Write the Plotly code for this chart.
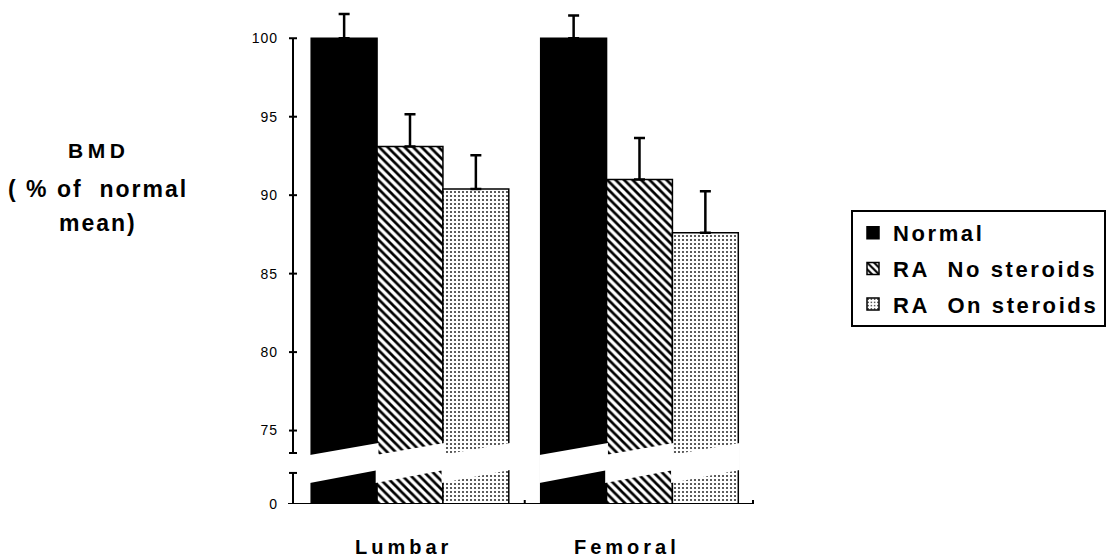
import plotly.graph_objects as go

# ---------------- data ----------------
categories = ["Lumbar", "Femoral"]
series_names = ["Normal", "RA\u00a0 No steroids", "RA\u00a0 On steroids"]
normal_vals = [100.0, 100.0]
normal_err = [1.55, 1.45]
no_ster_vals = [93.1, 91.0]
no_ster_err = [2.05, 2.65]
on_ster_vals = [90.4, 87.6]
on_ster_err = [2.15, 2.65]
tick_values = [75, 80, 85, 90, 95, 100]
tick_labels = ["75", "80", "85", "90", "95", "100"]

# ---------------- axis-break design (display units) ----------------
ZERO_POS = 70.32            # where "0" sits on the broken axis
BAND_UPPER = (73.44, 74.21)  # upper edge of white break band (bar left, bar right)
BAND_LOWER = (71.66, 72.49)  # lower edge of white break band
AXIS_BREAK = (72.3, 73.57)   # y-axis gap (bottom end, top end)
Y_TOP = 101.8

BARGAP = 0.139
X_RANGE = [-0.5098, 1.4946]

FONT = "Liberation Sans, Arial, Helvetica, sans-serif"


def spaced(t, px):
    return f'<span style="letter-spacing:{px}px">{t}</span>'


x_idx = list(range(len(categories)))
series = [
    (normal_vals, normal_err, dict(color="black", pattern=dict(shape=""))),
    (no_ster_vals, no_ster_err, dict(color="white",
                                     pattern=dict(shape="\\", fgcolor="black", bgcolor="white",
                                                  size=6, solidity=0.45, fillmode="replace"))),
    (on_ster_vals, on_ster_err, dict(color="white",
                                     pattern=dict(shape=".", fgcolor="#333333", bgcolor="white",
                                                  size=4, solidity=0.22, fillmode="replace"))),
]

fig = go.Figure()
for name, (vals, errs, mk) in zip(series_names, series):
    mk = dict(mk)
    mk["line"] = dict(color="black", width=1.5)
    fig.add_trace(go.Bar(
        x=x_idx, y=vals, name=spaced(name, 2.6), marker=mk,
        legendgroup=name, hoverinfo="skip",
        error_y=dict(type="data", symmetric=False, array=errs,
                     arrayminus=[0] * len(errs), color="black",
                     thickness=2.5, width=5.5),
    ))

shapes = []
# white slanted break band over each bar
bw = (1 - BARGAP) / 3
pad = 0.006
for c in x_idx:
    for i in range(3):
        cen = c + (i - 1) * bw
        x0, x1 = cen - bw / 2 - pad, cen + bw / 2 + pad
        path = (f"M{x0},{BAND_UPPER[0]} L{x1},{BAND_UPPER[1]} "
                f"L{x1},{BAND_LOWER[1]} L{x0},{BAND_LOWER[0]} Z")
        shapes.append(dict(type="path", path=path, xref="x", yref="y",
                           fillcolor="white", line=dict(width=0), layer="above"))

# broken y axis line
LW = 2
shapes.append(dict(type="line", xref="paper", yref="y", x0=0, x1=0,
                   y0=AXIS_BREAK[1], y1=max(tick_values), line=dict(color="black", width=LW)))
shapes.append(dict(type="line", xref="paper", yref="y", x0=0, x1=0,
                   y0=ZERO_POS, y1=AXIS_BREAK[0], line=dict(color="black", width=LW)))
# caps at break + ticks crossing the axis
for yv in [AXIS_BREAK[0], AXIS_BREAK[1]] + tick_values:
    shapes.append(dict(type="line", xref="paper", yref="y", xsizemode="pixel", xanchor=0,
                       x0=-4, x1=4, y0=yv, y1=yv, line=dict(color="black", width=LW)))
shapes.append(dict(type="line", xref="paper", yref="y", xsizemode="pixel", xanchor=0,
                   x0=-5, x1=0, y0=ZERO_POS, y1=ZERO_POS, line=dict(color="black", width=LW)))
# x-axis line and its crossing ticks
shapes.append(dict(type="line", xref="paper", yref="y", x0=0, x1=1,
                   y0=ZERO_POS, y1=ZERO_POS, line=dict(color="black", width=LW)))
for xv, xr in [(0.5, "x"), (1, "paper")]:
    shapes.append(dict(type="line", xref=xr, yref="y", ysizemode="pixel", yanchor=ZERO_POS,
                       x0=xv, x1=xv, y0=-4, y1=4, line=dict(color="black", width=LW)))

PLOT_TOP, PLOT_BOTTOM = 10, 504


def py2paper(py):
    return (PLOT_BOTTOM - py) / (PLOT_BOTTOM - PLOT_TOP)


annotations = []
# category labels
for c, (lab, xs) in enumerate(zip(categories, [-7, -12])):
    annotations.append(dict(x=c, xref="x", y=py2paper(547), yref="paper",
                            xshift=xs, text=spaced(lab, 4), showarrow=False,
                            xanchor="center", yanchor="middle",
                            font=dict(family=FONT, size=20, color="black", weight="bold")))
# y-axis title (three lines)
for txt, pyc, size, sp in [("BMD", 150, 21, 4.5), ("(\u00a0% of\u00a0 normal", 189, 23, 2),
                           ("mean)", 223, 23, 2)]:
    annotations.append(dict(x=(98 - 293) / 460, xref="paper", y=py2paper(pyc), yref="paper",
                            text=spaced(txt, sp), showarrow=False,
                            xanchor="center", yanchor="middle",
                            font=dict(family=FONT, size=size, color="black", weight="bold")))

fig.update_layout(
    width=1107, height=560,
    margin=dict(l=293, r=354, t=PLOT_TOP, b=560 - PLOT_BOTTOM, autoexpand=False),
    paper_bgcolor="white", plot_bgcolor="white",
    barmode="group", bargap=BARGAP, bargroupgap=0,
    showlegend=True, hovermode=False,
    legend=dict(x=(851 - 293) / 460, y=py2paper(210), xanchor="left", yanchor="top",
                bordercolor="black", borderwidth=2, bgcolor="white",
                font=dict(family=FONT, size=22, color="black", weight="bold"),
                traceorder="grouped", tracegroupgap=4),
    xaxis=dict(range=X_RANGE, showticklabels=False, showline=False, showgrid=False,
               zeroline=False, ticks=""),
    yaxis=dict(range=[ZERO_POS, Y_TOP], showline=False, showgrid=False, zeroline=False,
               ticks="", tickmode="array",
               tickvals=[ZERO_POS] + tick_values,
               ticktext=[spaced(t, 1) for t in ["0"] + tick_labels],
               ticklabelstandoff=14,
               tickfont=dict(family=FONT, size=14, color="black")),
    shapes=shapes, annotations=annotations,
)

fig.write_html("out.html", config={"displayModeBar": False, "staticPlot": True},
               post_script="document.body.style.margin='0';document.body.style.overflow='hidden';")
